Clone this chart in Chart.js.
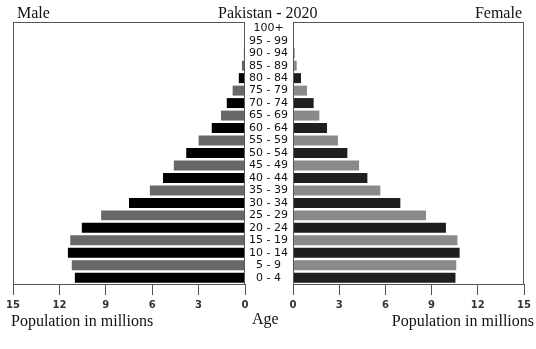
<!DOCTYPE html>
<html>
<head>
<meta charset="utf-8">
<script src="https://cdn.jsdelivr.net/npm/chart.js@4/dist/chart.umd.min.js"></script>
<style>
  body { margin: 0; background: #fff; }
  #wrap { position: relative; width: 536px; height: 349px; overflow: hidden; }
  canvas { position: absolute; top: 0; }
  .lbl { position: absolute; font-family: "Liberation Serif", "Times New Roman", serif; font-size: 16px; line-height: 16px; color: #111; white-space: nowrap; }
</style>
</head>
<body>
<div id="wrap">
  <canvas id="male" style="left:0" width="250" height="349"></canvas>
  <canvas id="female" style="left:245px" width="291" height="349"></canvas>
  <div class="lbl" style="left:17px; top:5px">Male</div>
  <div class="lbl" style="left:218px; top:5px">Pakistan - 2020</div>
  <div class="lbl" style="right:14px; top:5px">Female</div>
  <div class="lbl" style="left:11px; top:313px">Population in millions</div>
  <div class="lbl" style="left:252px; top:311px">Age</div>
  <div class="lbl" style="right:2px; top:313px">Population in millions</div>
</div>
<script>
// age groups, youngest first
const ageGroups = ["0 - 4", "5 - 9", "10 - 14", "15 - 19", "20 - 24", "25 - 29", "30 - 34",
  "35 - 39", "40 - 44", "45 - 49", "50 - 54", "55 - 59", "60 - 64", "65 - 69", "70 - 74",
  "75 - 79", "80 - 84", "85 - 89", "90 - 94", "95 - 99", "100+"];

// population in millions
const maleValues = [11.0, 11.2, 11.45, 11.3, 10.55, 9.3, 7.5, 6.15, 5.3, 4.6, 3.8, 3.0,
  2.15, 1.55, 1.18, 0.8, 0.4, 0.2, 0.07, 0.03, 0.02];
const femaleValues = [10.55, 10.6, 10.82, 10.68, 9.93, 8.64, 6.97, 5.67, 4.83, 4.29, 3.53, 2.92,
  2.21, 1.71, 1.34, 0.91, 0.52, 0.24, 0.09, 0.03, 0.02];

const popTicks = [0, 3, 6, 9, 12, 15];

const axisGrey = '#555';
const tickFont = { family: 'DejaVu Sans', size: 10, weight: 'bold' };

function shades(dark, light) {
  return ageGroups.map((g, i) => i % 2 === 0 ? dark : light);
}

// outline round each plot area
const frame = {
  id: 'frame',
  afterDraw(chart) {
    const a = chart.chartArea;
    const ctx = chart.ctx;
    ctx.save();
    ctx.strokeStyle = axisGrey;
    ctx.lineWidth = 1;
    ctx.strokeRect(Math.round(a.left) + 0.5, Math.round(a.top) + 0.5,
      Math.round(a.right - a.left) - 1, Math.round(a.bottom - a.top));
    ctx.restore();
  }
};

function popAxis(reverse) {
  return {
    type: 'linear',
    reverse: reverse,
    min: 0,
    max: 15,
    afterBuildTicks(scale) {
      scale.ticks = popTicks.map(v => ({ value: v }));
    },
    afterFit(scale) { scale.height = 65; },
    grid: { drawOnChartArea: false, drawTicks: true, tickLength: 11, color: axisGrey },
    border: { display: true, color: axisGrey },
    ticks: { font: tickFont, color: '#333', padding: 4, maxRotation: 0 }
  };
}

function makeChart(id, values, colors, reverse, showAges, pad) {
  return new Chart(document.getElementById(id), {
    type: 'bar',
    data: {
      labels: ageGroups,
      datasets: [{
        data: values,
        backgroundColor: colors,
        borderWidth: 0,
        barPercentage: 0.8,
        categoryPercentage: 1
      }]
    },
    options: {
      indexAxis: 'y',
      responsive: false,
      animation: false,
      layout: { padding: pad },
      plugins: { legend: { display: false }, tooltip: { enabled: false } },
      scales: {
        x: popAxis(reverse),
        y: {
          type: 'category',
          reverse: true,
          display: showAges,
          afterFit(scale) { scale.width = showAges ? 48 : 0; },
          grid: { display: false, drawTicks: false },
          border: { display: false },
          ticks: {
            autoSkip: false,
            crossAlign: 'center',
            padding: 5,
            color: '#111',
            font: { family: 'DejaVu Sans', size: 11 }
          }
        }
      }
    },
    plugins: [frame]
  });
}

makeChart('male', maleValues, shades('#000000', '#686868'), true, false,
  { left: 13, right: 5, top: 22, bottom: 0 });
makeChart('female', femaleValues, shades('#1e1e1e', '#8a8a8a'), false, true,
  { left: 0, right: 12, top: 22, bottom: 0 });
</script>
</body>
</html>
